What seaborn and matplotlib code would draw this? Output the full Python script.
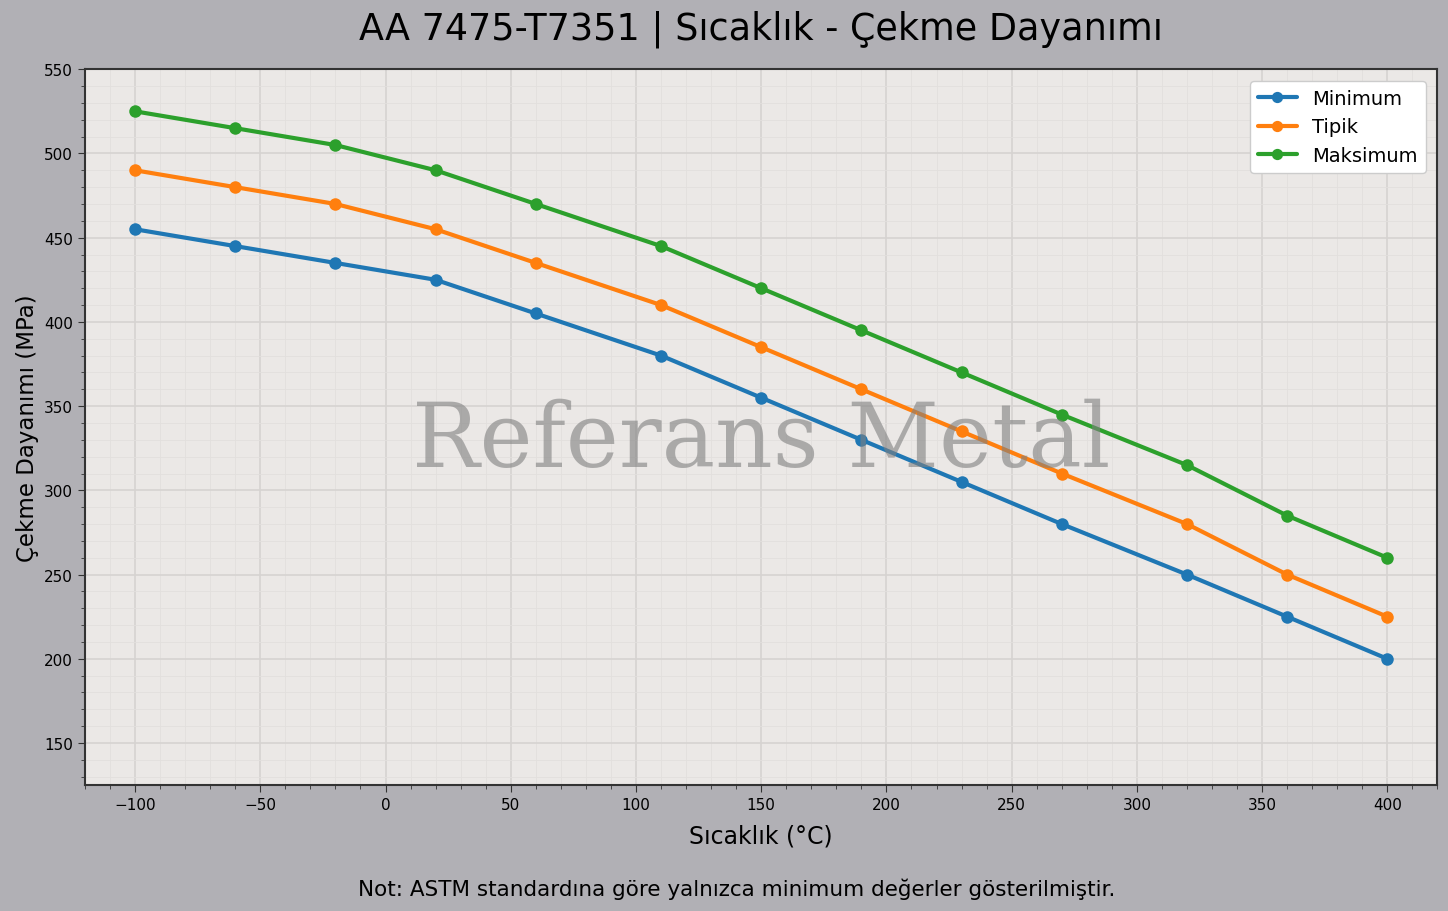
import matplotlib
matplotlib.use('Agg')
import matplotlib.pyplot as plt
import seaborn as sns
import pandas as pd
from matplotlib.ticker import MultipleLocator

# Data
sicaklik = [-100, -60, -20, 20, 60, 110, 150, 190, 230, 270, 320, 360, 400]
minimum = [455, 445, 435, 425, 405, 380, 355, 330, 305, 280, 250, 225, 200]
tipik = [490, 480, 470, 455, 435, 410, 385, 360, 335, 310, 280, 250, 225]
maksimum = [525, 515, 505, 490, 470, 445, 420, 395, 370, 345, 315, 285, 260]
seriler = ['Minimum', 'Tipik', 'Maksimum']

df = pd.DataFrame({'Sıcaklık': sicaklik, 'Minimum': minimum, 'Tipik': tipik, 'Maksimum': maksimum})
df_long = df.melt(id_vars='Sıcaklık', var_name='Seri', value_name='Dayanım')

sns.set_style('ticks')
plt.rcParams['font.family'] = ['DejaVu Sans']
plt.rcParams['text.color'] = 'black'
plt.rcParams['axes.labelcolor'] = 'black'
plt.rcParams['xtick.color'] = 'black'
plt.rcParams['ytick.color'] = 'black'

fig = plt.figure(figsize=(14.48, 9.12), dpi=100, facecolor='#b1b0b5')
ax = fig.add_axes([0.0587, 0.138, 0.934, 0.785])
ax.set_facecolor('#ebe8e6')

sns.lineplot(data=df_long, x='Sıcaklık', y='Dayanım', hue='Seri', hue_order=seriler,
             palette=['#1f77b4', '#ff7f0e', '#2ca02c'], marker='o', markersize=9,
             markeredgewidth=0, linewidth=3, ax=ax)

ax.set_xlim(-120, 420)
ax.set_ylim(125, 550)
ax.xaxis.set_major_locator(MultipleLocator(50))
ax.xaxis.set_minor_locator(MultipleLocator(10))
ax.yaxis.set_major_locator(MultipleLocator(50))
ax.yaxis.set_minor_locator(MultipleLocator(10))
ax.grid(which='major', color='#d6d3d1', linewidth=1.2)
ax.grid(which='minor', color='#e2dfdd', linewidth=0.6)
ax.set_axisbelow(True)
for s in ax.spines.values():
    s.set_color('#333333')
    s.set_linewidth(1.5)
ax.tick_params(which='major', labelsize=11, length=5, color='#333333')
ax.tick_params(which='minor', length=3, color='#333333')

ax.set_xlabel('Sıcaklık (°C)', fontsize=17, labelpad=8)
ax.set_ylabel('Çekme Dayanımı (MPa)', fontsize=16.5, labelpad=4)
fig.text(0.5255, 1 - 29 / 912, 'AA 7475-T7351 | Sıcaklık - Çekme Dayanımı',
         ha='center', va='center', fontsize=26.3)

leg = ax.legend(loc='upper right', fontsize=14, frameon=True, facecolor='white',
                edgecolor='#cccccc', markerscale=0.9, borderaxespad=0.6)
leg.get_frame().set_alpha(1)

ax.text(0.5, 0.48, 'Referans Metal', transform=ax.transAxes, ha='center', va='center',
        fontsize=64.5, family='DejaVu Serif', color='#808080', alpha=0.6, zorder=5)

fig.text(0.509, 1 - 889 / 912, 'Not: ASTM standardına göre yalnızca minimum değerler gösterilmiştir.',
         ha='center', va='center', fontsize=15.5)

fig.savefig('out.png', dpi=100, facecolor=fig.get_facecolor())
